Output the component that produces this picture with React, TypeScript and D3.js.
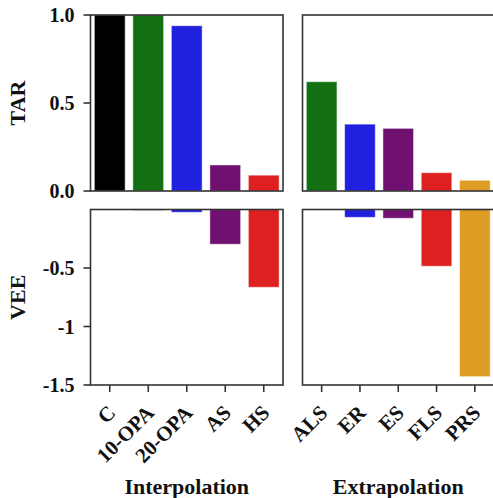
import React, { useEffect, useRef } from "react";
import * as d3 from "d3";

const interpCats = ["C", "10-OPA", "20-OPA", "AS", "HS"];
const extrapCats = ["ALS", "ER", "ES", "FLS", "PRS"];
const interpColors = ["#000000", "#127012", "#2020df", "#701070", "#df2020"];
const extrapColors = ["#127012", "#2020df", "#701070", "#df2020", "#df9c24"];
const interpTAR = [1.0, 1.0, 0.939, 0.148, 0.09];
const extrapTAR = [0.621, 0.38, 0.356, 0.104, 0.061];
const interpVEE = [0, -0.007, -0.024, -0.297, -0.665];
const extrapVEE = [0, -0.067, -0.075, -0.485, -1.429];
const tarTicks = [0, 0.5, 1.0];
const tarTickLabels = ["0.0", "0.5", "1.0"];
const veeTicks = [-0.5, -1, -1.5];
const veeTickLabels = ["-0.5", "-1", "-1.5"];

const W = 493;
const H = 498;
const FONT = "'Liberation Serif', 'Times New Roman', serif";
const SPINE = "#333333";
const TEXT = "#111111";

export default function App() {
  const ref = useRef<SVGSVGElement>(null);
  useEffect(() => {
    const svg = d3.select(ref.current);
    svg.selectAll("*").remove();

    const cols = [
      { x0: 90.5, x1: 283, cats: interpCats, colors: interpColors, tar: interpTAR, vee: interpVEE, label: "Interpolation" },
      { x0: 302.5, x1: 494, cats: extrapCats, colors: extrapColors, tar: extrapTAR, vee: extrapVEE, label: "Extrapolation" },
    ];
    const rows = [
      { y0: 15, y1: 191, domain: [0, 1], key: "tar", ticks: tarTicks, labels: tarTickLabels, name: "TAR" },
      { y0: 209.5, y1: 385, domain: [-1.5, 0], key: "vee", ticks: veeTicks, labels: veeTickLabels, name: "VEE" },
    ];

    rows.forEach((row, ri) => {
      const y = d3.scaleLinear().domain(row.domain).range([row.y1, row.y0]);
      cols.forEach((col, ci) => {
        const x = d3
          .scaleBand()
          .domain(col.cats)
          .range([col.x0, col.x1])
          .paddingInner(0.2)
          .paddingOuter(0.1);
        const g = svg.append("g");
        const vals = (row.key === "tar" ? col.tar : col.vee) as number[];
        g.selectAll("rect")
          .data(vals)
          .enter()
          .append("rect")
          .attr("x", (_d, i) => x(col.cats[i])!)
          .attr("width", x.bandwidth())
          .attr("y", (d) => Math.min(y(d), y(0)))
          .attr("height", (d) => Math.abs(y(d) - y(0)))
          .attr("fill", (_d, i) => col.colors[i])
          .attr("stroke", "#ffffff")
          .attr("stroke-opacity", 0.5)
          .attr("stroke-width", 1);
        g.append("rect")
          .attr("x", col.x0)
          .attr("y", row.y0)
          .attr("width", col.x1 - col.x0)
          .attr("height", row.y1 - row.y0)
          .attr("fill", "none")
          .attr("stroke", SPINE)
          .attr("stroke-width", 1.6);
        if (ci === 0) {
          row.ticks.forEach((t, ti) => {
            g.append("line")
              .attr("x1", col.x0 - 7)
              .attr("x2", col.x0)
              .attr("y1", y(t))
              .attr("y2", y(t))
              .attr("stroke", SPINE)
              .attr("stroke-width", 1.6);
            g.append("text")
              .attr("x", col.x0 - 16)
              .attr("y", y(t))
              .attr("dy", "0.35em")
              .attr("text-anchor", "end")
              .attr("font-family", FONT)
              .attr("font-weight", "bold")
              .attr("font-size", 20)
              .attr("fill", TEXT)
              .text(row.labels[ti]);
          });
        }
        if (ri === 1) {
          col.cats.forEach((c) => {
            const cx = x(c)! + x.bandwidth() / 2;
            g.append("line")
              .attr("x1", cx)
              .attr("x2", cx)
              .attr("y1", row.y1)
              .attr("y2", row.y1 + 7)
              .attr("stroke", SPINE)
              .attr("stroke-width", 1.6);
            g.append("text")
              .attr("transform", `translate(${cx + 7},${row.y1 + 29}) rotate(-45)`)
              .attr("text-anchor", "end")
              .attr("font-family", FONT)
              .attr("font-weight", "bold")
              .attr("font-size", 21)
              .attr("fill", TEXT)
              .text(c);
          });
          svg.append("text")
            .attr("x", (col.x0 + col.x1) / 2)
            .attr("y", 494)
            .attr("text-anchor", "middle")
            .attr("font-family", FONT)
            .attr("font-weight", "bold")
            .attr("font-size", 22)
            .attr("fill", TEXT)
            .text(col.label);
        }
      });
      svg.append("text")
        .attr("transform", `translate(25,${(row.y0 + row.y1) / 2}) rotate(-90)`)
        .attr("text-anchor", "middle")
        .attr("font-family", FONT)
        .attr("font-weight", "bold")
        .attr("font-size", 22)
        .attr("fill", TEXT)
        .text(row.name);
    });
  }, []);

  return (
    <svg
      ref={ref}
      width={W}
      height={H}
      style={{ position: "absolute", left: 0, top: 0, background: "#fff" }}
    />
  );
}
